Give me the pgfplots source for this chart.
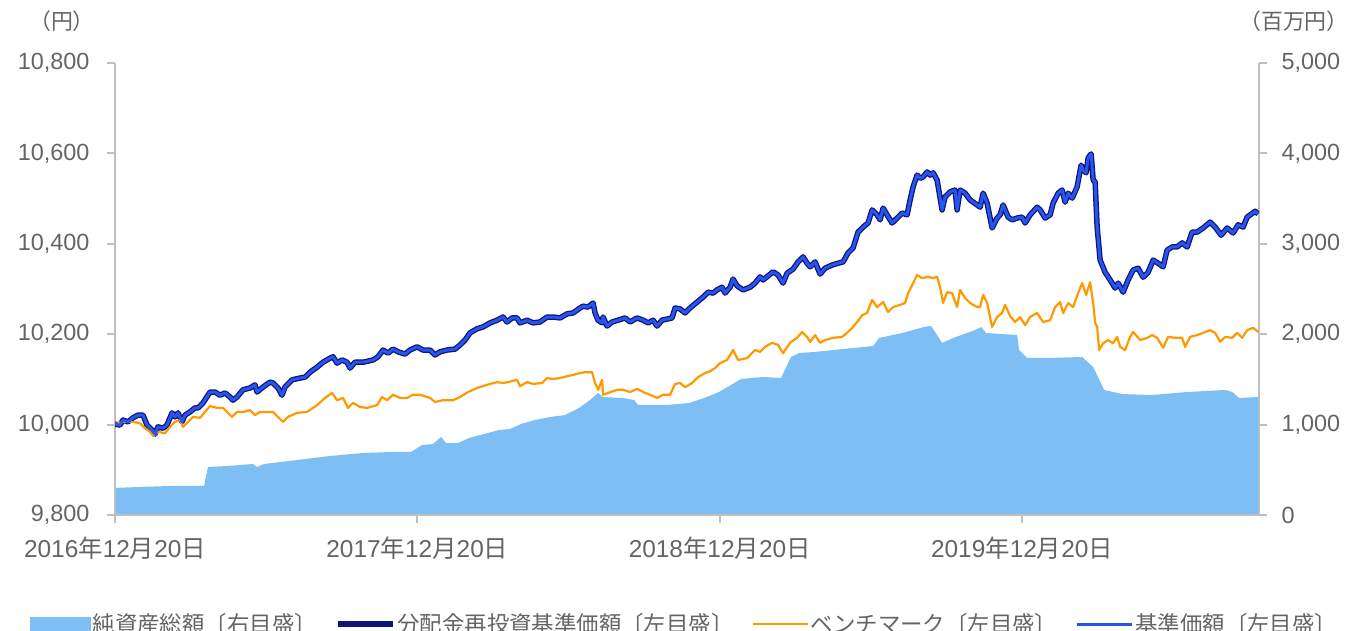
\documentclass[border=0pt]{standalone}
\usepackage{fontspec}
\setmainfont{Liberation Sans}
\newfontfamily\cjk{Noto Sans CJK JP}
\usepackage{pgfplots}
\usepackage{pgfplotstable}
\pgfplotsset{compat=1.18}
\definecolor{areablue}{RGB}{125,190,245}
\definecolor{navyline}{RGB}{15,20,120}
\definecolor{blueline}{RGB}{40,85,235}
\definecolor{orangeline}{RGB}{255,153,0}
\definecolor{axgray}{RGB}{191,191,191}
\definecolor{tickgray}{RGB}{100,100,100}

\pgfplotstableread{
t v
0 10001
0.0165 9999
0.0265 10010
0.0430 10006
0.0595 10015
0.0761 10021
0.0926 10021
0.1059 9999
0.1224 9988
0.1323 9979
0.1422 9995
0.1588 9992
0.1720 9999
0.1886 10026
0.1985 10017
0.2084 10026
0.2216 10006
0.2316 10021
0.2481 10028
0.2646 10037
0.2746 10037
0.2911 10048
0.3143 10072
0.3308 10072
0.3473 10065
0.3639 10070
0.3804 10061
0.3903 10054
0.4036 10061
0.4234 10077
0.4466 10081
0.4631 10088
0.4697 10072
0.4896 10083
0.5127 10094
0.5227 10092
0.5392 10081
0.5524 10065
0.5624 10083
0.5855 10099
0.6120 10103
0.6285 10105
0.6451 10116
0.6682 10127
0.6881 10138
0.7112 10147
0.7212 10150
0.7344 10136
0.7509 10143
0.7675 10138
0.7774 10125
0.7939 10138
0.8204 10138
0.8535 10143
0.8700 10150
0.8865 10165
0.9031 10158
0.9196 10167
0.9362 10161
0.9593 10156
0.9759 10165
0.9990 10172
1.0189 10165
1.0420 10165
1.0586 10154
1.0751 10161
1.0983 10165
1.1247 10167
1.1413 10176
1.1578 10187
1.1743 10203
1.1975 10212
1.2173 10216
1.2405 10225
1.2637 10231
1.2835 10238
1.2967 10227
1.3133 10236
1.3298 10236
1.3397 10225
1.3629 10231
1.3827 10225
1.4059 10227
1.4291 10238
1.4489 10238
1.4721 10236
1.4952 10245
1.5151 10247
1.5382 10258
1.5481 10262
1.5647 10260
1.5812 10269
1.5878 10247
1.5978 10231
1.6110 10225
1.6143 10238
1.6275 10218
1.6441 10227
1.6639 10231
1.6871 10236
1.7036 10227
1.7268 10236
1.7466 10231
1.7632 10225
1.7797 10231
1.7929 10218
1.8095 10231
1.8293 10234
1.8426 10236
1.8525 10258
1.8690 10256
1.8856 10247
1.9021 10258
1.9253 10271
1.9451 10282
1.9616 10293
1.9782 10291
1.9914 10298
2.0079 10304
2.0179 10291
2.0344 10304
2.0443 10322
2.0576 10307
2.0774 10298
2.1006 10304
2.1171 10313
2.1337 10327
2.1436 10320
2.1601 10329
2.1767 10338
2.1932 10331
2.2097 10313
2.2230 10335
2.2428 10344
2.2594 10360
2.2759 10371
2.2891 10357
2.2991 10349
2.3156 10360
2.3321 10333
2.3487 10346
2.3718 10353
2.3917 10357
2.4082 10360
2.4248 10380
2.4413 10391
2.4578 10426
2.4744 10437
2.4909 10446
2.5042 10475
2.5207 10464
2.5306 10453
2.5405 10479
2.5538 10464
2.5703 10446
2.5869 10457
2.6034 10468
2.6199 10464
2.6299 10497
2.6398 10526
2.6530 10552
2.6629 10545
2.6729 10548
2.6861 10559
2.6960 10552
2.7059 10557
2.7192 10541
2.7357 10475
2.7456 10504
2.7622 10515
2.7787 10519
2.7853 10475
2.7952 10519
2.8118 10512
2.8283 10497
2.8515 10486
2.8614 10481
2.8713 10512
2.8846 10490
2.9011 10435
2.9177 10457
2.9276 10464
2.9375 10486
2.9540 10459
2.9673 10453
2.9839 10457
3.0004 10459
3.0103 10446
3.0268 10464
3.0500 10481
3.0599 10475
3.0765 10457
3.0930 10464
3.1029 10490
3.1195 10512
3.1327 10519
3.1426 10492
3.1525 10512
3.1658 10501
3.1823 10526
3.1956 10574
3.2022 10563
3.2121 10557
3.2187 10590
3.2287 10599
3.2353 10541
3.2419 10537
3.2485 10437
3.2584 10364
3.2749 10337
3.2915 10320
3.3080 10302
3.3180 10313
3.3345 10293
3.3510 10320
3.3676 10342
3.3841 10346
3.4007 10326
3.4172 10337
3.4338 10364
3.4503 10357
3.4668 10349
3.4800 10386
3.4966 10393
3.5131 10393
3.5297 10402
3.5462 10393
3.5627 10426
3.5793 10426
3.5991 10435
3.6223 10448
3.6388 10437
3.6587 10419
3.6785 10435
3.6984 10424
3.7149 10442
3.7315 10437
3.7447 10459
3.7712 10472
3.7811 10466
}\navdata

\pgfplotstableread{
t v
0 10001
0.0265 10006
0.0595 10006
0.0827 10003
0.0992 9992
0.1158 9984
0.1257 9975
0.1422 9984
0.1654 9981
0.1819 9995
0.1985 10006
0.2150 10010
0.2249 9995
0.2415 10006
0.2580 10017
0.2812 10015
0.2977 10028
0.3143 10041
0.3374 10037
0.3573 10037
0.3738 10026
0.3870 10017
0.4036 10028
0.4234 10028
0.4466 10032
0.4631 10021
0.4797 10028
0.5028 10028
0.5227 10028
0.5392 10017
0.5558 10006
0.5723 10017
0.6021 10026
0.6352 10028
0.6682 10043
0.6947 10059
0.7178 10070
0.7344 10054
0.7542 10059
0.7708 10037
0.7873 10048
0.8105 10039
0.8336 10037
0.8667 10043
0.8832 10061
0.8998 10054
0.9196 10066
0.9428 10059
0.9659 10059
0.9858 10066
1.0089 10066
1.0420 10059
1.0586 10050
1.0850 10054
1.1181 10054
1.1413 10061
1.1677 10072
1.1975 10081
1.2306 10088
1.2637 10094
1.2835 10092
1.3000 10094
1.3298 10099
1.3397 10085
1.3629 10094
1.3827 10090
1.4125 10092
1.4291 10103
1.4489 10101
1.4721 10103
1.4952 10107
1.5151 10110
1.5382 10114
1.5548 10116
1.5779 10116
1.5878 10092
1.5978 10077
1.6110 10099
1.6143 10066
1.6308 10070
1.6606 10077
1.6805 10077
1.7036 10072
1.7268 10079
1.7466 10072
1.7698 10066
1.7929 10059
1.8128 10066
1.8359 10066
1.8525 10090
1.8690 10092
1.8856 10083
1.9087 10092
1.9286 10105
1.9517 10114
1.9683 10118
1.9848 10125
2.0013 10136
2.0245 10143
2.0443 10165
2.0609 10143
2.0907 10147
2.1171 10165
2.1337 10161
2.1502 10172
2.1734 10181
2.1932 10176
2.2097 10158
2.2329 10181
2.2561 10192
2.2726 10205
2.2891 10194
2.2991 10183
2.3156 10198
2.3321 10181
2.3487 10187
2.3751 10192
2.4049 10194
2.4214 10203
2.4380 10214
2.4545 10227
2.4711 10242
2.4876 10247
2.5042 10276
2.5207 10260
2.5406 10271
2.5571 10249
2.5736 10260
2.5968 10265
2.6133 10269
2.6232 10291
2.6398 10313
2.6530 10331
2.6696 10324
2.6894 10327
2.7059 10324
2.7192 10327
2.7291 10304
2.7390 10269
2.7523 10293
2.7688 10291
2.7853 10260
2.7952 10298
2.8118 10280
2.8283 10269
2.8515 10260
2.8614 10260
2.8713 10287
2.8846 10269
2.9011 10216
2.9177 10238
2.9342 10247
2.9441 10265
2.9607 10240
2.9772 10227
2.9937 10238
3.0103 10220
3.0268 10238
3.0500 10247
3.0698 10227
3.0930 10231
3.1096 10260
3.1261 10271
3.1360 10247
3.1526 10269
3.1691 10260
3.1856 10291
3.1989 10313
3.2121 10287
3.2253 10315
3.2353 10269
3.2419 10225
3.2485 10216
3.2551 10165
3.2683 10180
3.2849 10187
3.3014 10180
3.3146 10194
3.3246 10172
3.3411 10165
3.3576 10194
3.3676 10205
3.3907 10187
3.4139 10192
3.4304 10198
3.4470 10192
3.4668 10170
3.4834 10194
3.5065 10192
3.5297 10192
3.5396 10172
3.5561 10194
3.5793 10198
3.5991 10203
3.6223 10209
3.6388 10203
3.6554 10183
3.6719 10194
3.6951 10192
3.7116 10203
3.7282 10192
3.7447 10209
3.7646 10214
3.7811 10205
}\bmdata

\pgfplotstableread{
t a
0 300
0.1786 321
0.2944 321
0.3077 531
0.3705 542
0.4565 564
0.4697 531
0.4929 564
0.6021 608
0.7112 653
0.8204 686
0.9163 697
0.9792 697
1.0155 774
1.0519 785
1.0784 863
1.0950 796
1.1346 796
1.1710 852
1.2206 896
1.2703 940
1.3067 951
1.3430 1007
1.3894 1051
1.4390 1084
1.4886 1106
1.5349 1184
1.5713 1272
1.5978 1350
1.6143 1305
1.6805 1294
1.7169 1272
1.7301 1217
1.8260 1217
1.8988 1239
1.9484 1294
1.9980 1361
2.0708 1504
2.1436 1527
2.2031 1516
2.2362 1748
2.2627 1792
2.3123 1803
2.4082 1836
2.5075 1869
2.5273 1958
2.6034 2013
2.6762 2080
2.6993 2091
2.7192 1991
2.7357 1903
2.7721 1958
2.8449 2046
2.8647 2080
2.8813 2013
2.9839 1991
2.9905 1825
3.0169 1737
3.0897 1737
3.1989 1748
3.2353 1637
3.2717 1383
3.3312 1338
3.4272 1327
3.5496 1361
3.6719 1383
3.6951 1361
3.7183 1294
3.7811 1305
}\areadata

\begin{document}
\begin{tikzpicture}
% right axis: net assets (area)
\begin{axis}[
  at={(115bp,116bp)}, anchor=south west,
  width=1144bp, height=452bp, scale only axis,
  xmin=0, xmax=3.784, ymin=0, ymax=5000,
  axis y line*=right, axis x line=none,
  axis line style={draw=axgray, line width=2bp, -},
  ytick={0,1000,2000,3000,4000,5000},
  scaled y ticks=false,
  major tick length=8bp, tick align=outside,
  major tick style={draw=axgray, line width=2bp},
  tick label style={font=\fontsize{23.5}{28}\selectfont, text=tickgray},
  yticklabel style={xshift=11bp},
  /pgf/number format/1000 sep={,},
  /pgf/number format/assume math mode=true,
]
\addplot[fill=areablue, draw=none] table[x=t, y=a] {\areadata} \closedcycle;
\end{axis}
% left axis: prices
\begin{axis}[
  at={(115bp,116bp)}, anchor=south west,
  width=1144bp, height=452bp, scale only axis,
  xmin=0, xmax=3.784, ymin=9800, ymax=10800,
  axis x line*=bottom, axis y line*=left,
  axis line style={draw=axgray, line width=2bp, -},
  xtick={0,1,2,3},
  xticklabels={2016{\cjk 年}12{\cjk 月}20{\cjk 日},2017{\cjk 年}12{\cjk 月}20{\cjk 日},2018{\cjk 年}12{\cjk 月}20{\cjk 日},2019{\cjk 年}12{\cjk 月}20{\cjk 日}},
  ytick={9800,10000,10200,10400,10600,10800},
  scaled y ticks=false,
  major tick length=8bp, tick align=outside,
  major tick style={draw=axgray, line width=2bp},
  tick label style={font=\fontsize{23.5}{28}\selectfont, text=tickgray},
  xticklabel style={yshift=-10bp, font=\fontsize{24.5}{29}\selectfont},
  yticklabel style={xshift=-14bp},
  /pgf/number format/1000 sep={,},
  /pgf/number format/assume math mode=true,
  legend columns=4,
  legend cell align=left,
  legend style={at={(0.498,-0.2412)}, anchor=center, draw=none, fill=none,
    font=\cjk\fontsize{22.5}{27}\selectfont, text=tickgray,
    /tikz/every even column/.append style={column sep=16bp}},
  legend image code/.code={\draw[#1] (0bp,0bp) -- (55bp,0bp);},
]
\addlegendimage{legend image code/.code={\fill[areablue] (0bp,-7bp) rectangle (60bp,7bp);}}
\addlegendentry{純資産総額〔右目盛〕}
\addplot[navyline, line width=5.5bp, line join=round] table[x=t, y=v] {\navdata};
\addlegendentry{分配金再投資基準価額〔左目盛〕}
\addplot[orangeline, line width=2.2bp, line join=round] table[x=t, y=v] {\bmdata};
\addlegendentry{ベンチマーク〔左目盛〕}
\addplot[blueline, line width=3bp, line join=round] table[x=t, y=v] {\navdata};
\addlegendentry{基準価額〔左目盛〕}
\end{axis}
\node[font=\cjk\fontsize{22}{26}\selectfont, text=tickgray, inner sep=0pt] at (62bp,610bp) {（円）};
\node[font=\cjk\fontsize{22}{26}\selectfont, text=tickgray, inner sep=0pt] at (1294bp,610bp) {（百万円）};
\pgfresetboundingbox
\useasboundingbox (0,0) rectangle (1345bp,631bp);
\end{tikzpicture}
\end{document}
